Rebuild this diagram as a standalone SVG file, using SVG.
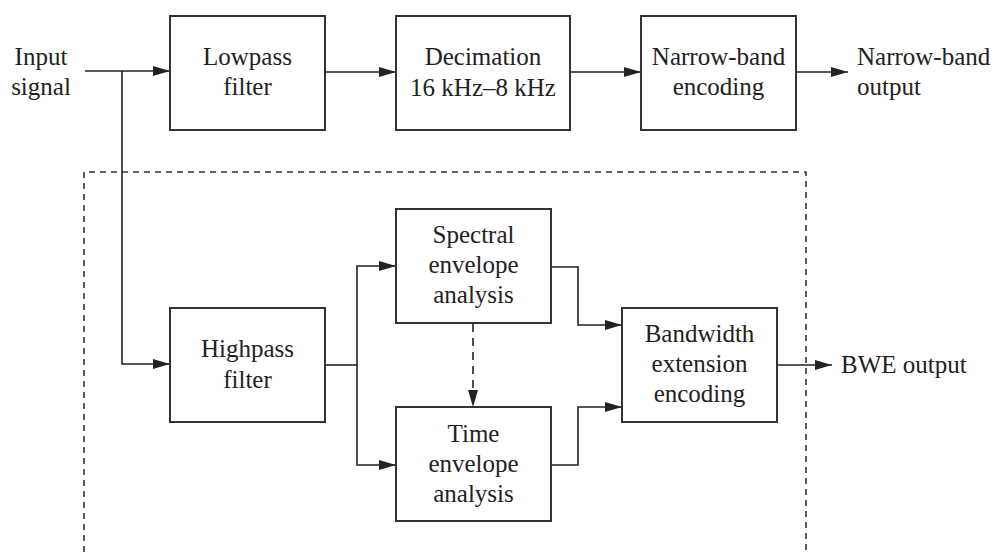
<svg xmlns="http://www.w3.org/2000/svg" width="994" height="552" viewBox="0 0 994 552">
<defs>
<style>
.box{fill:#fff;stroke:#333;stroke-width:2}
.ln{fill:none;stroke:#222;stroke-width:1.6}
.dash{fill:none;stroke:#333;stroke-width:1.6;stroke-dasharray:6 5}
.t{font-family:'Liberation Serif','Times New Roman',serif;font-size:25px;fill:#222}
.c{text-anchor:middle}
</style>
<marker id="ah" markerUnits="userSpaceOnUse" markerWidth="18" markerHeight="10" refX="17" refY="5" orient="auto">
<path d="M0,0 L17,5 L0,10 Z" fill="#222"/>
</marker>
</defs>
<rect width="994" height="552" fill="#fff"/>
<path class="dash" d="M84,552 V172 H806 V552"/>
<g id="connectors">
<path class="ln" d="M85,71 H170" marker-end="url(#ah)"/>
<path class="ln" d="M122,71 V364 H170" marker-end="url(#ah)"/>
<path class="ln" d="M325,72 H396" marker-end="url(#ah)"/>
<path class="ln" d="M570,72 H641" marker-end="url(#ah)"/>
<path class="ln" d="M796,72 H848" marker-end="url(#ah)"/>
<path class="ln" d="M325,365 H357"/>
<path class="ln" d="M357,365 V266 H396" marker-end="url(#ah)"/>
<path class="ln" d="M357,365 V465 H396" marker-end="url(#ah)"/>
<path class="ln" d="M551,267 H578 V325 H622" marker-end="url(#ah)"/>
<path class="ln" d="M551,465 H578 V407 H622" marker-end="url(#ah)"/>
<path class="ln" d="M473,324 V407" stroke-dasharray="8 6" marker-end="url(#ah)"/>
<path class="ln" d="M777,365 H832" marker-end="url(#ah)"/>
</g>
<g class="t">
<g id="input-label"><text class="c" x="41" y="65">Input</text><text class="c" x="41" y="95">signal</text></g>
<g id="lowpass"><rect class="box" x="170" y="16" width="155" height="114"/><text class="c" x="247.5" y="65">Lowpass</text><text class="c" x="247.5" y="95">filter</text></g>
<g id="decimation"><rect class="box" x="396" y="16" width="174" height="114"/><text class="c" x="483" y="65">Decimation</text><text class="c" x="483" y="96">16 kHz–8 kHz</text></g>
<g id="nb-encoding"><rect class="box" x="641" y="16" width="155" height="114"/><text class="c" x="718.5" y="65">Narrow-band</text><text class="c" x="718.5" y="95">encoding</text></g>
<g id="nb-output"><text x="857" y="65">Narrow-band</text><text x="857" y="95">output</text></g>
<g id="highpass"><rect class="box" x="170" y="308" width="155" height="114"/><text class="c" x="247.5" y="357">Highpass</text><text class="c" x="247.5" y="388">filter</text></g>
<g id="spectral"><rect class="box" x="396" y="209" width="155" height="114"/><text class="c" x="473.5" y="243">Spectral</text><text class="c" x="473.5" y="273">envelope</text><text class="c" x="473.5" y="303">analysis</text></g>
<g id="time"><rect class="box" x="396" y="407" width="155" height="114"/><text class="c" x="473.5" y="442">Time</text><text class="c" x="473.5" y="472">envelope</text><text class="c" x="473.5" y="502">analysis</text></g>
<g id="bwe"><rect class="box" x="622" y="308" width="155" height="114"/><text class="c" x="699.5" y="342">Bandwidth</text><text class="c" x="699.5" y="372">extension</text><text class="c" x="699.5" y="402">encoding</text></g>
<g id="bwe-output"><text x="841" y="373">BWE output</text></g>
</g>
</svg>
